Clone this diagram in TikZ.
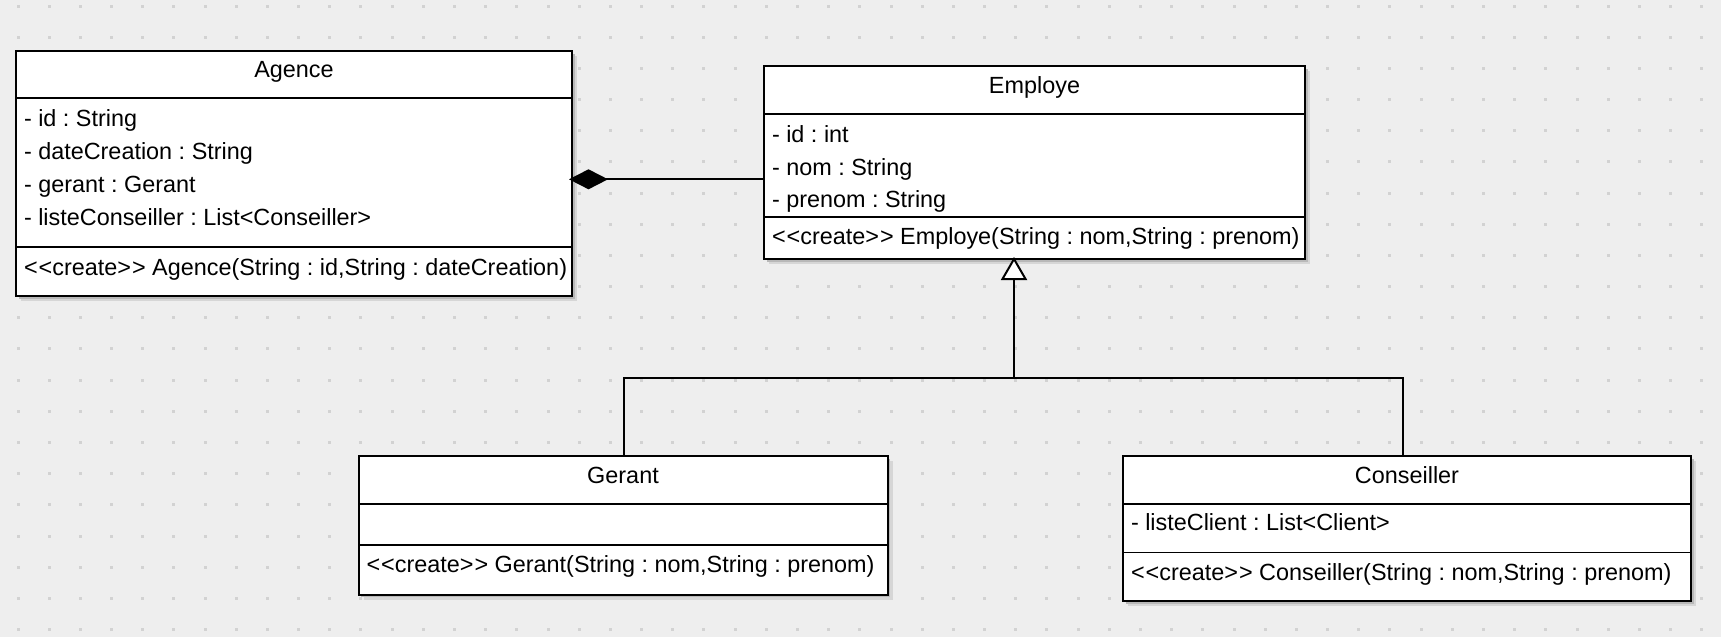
\documentclass[tikz,border=0pt]{standalone}
\usepackage{fontspec}
\setmainfont{Liberation Sans}
\usetikzlibrary{arrows.meta,shadows}
\definecolor{bgcol}{HTML}{EEEEEE}
\definecolor{dotcol}{HTML}{D2D2D2}
\definecolor{shlight}{HTML}{D6D6D6}
\definecolor{shdark}{HTML}{B8B8B8}
\newcommand\umlcr{<\kern1pt<create>\kern1pt>}
\frenchspacing
\begin{document}
\begin{tikzpicture}[x=1pt,y=-1pt,
  cls/.style={rectangle, draw=black, fill=white, line width=2pt, inner sep=0pt, outer sep=0pt, anchor=north west,
    drop shadow={shadow xshift=5pt, shadow yshift=-5pt, fill=shlight, opacity=1},
    drop shadow={shadow xshift=2.5pt, shadow yshift=-2.5pt, fill=shdark, opacity=1}},
  sepline/.style={line width=2pt},
  thinsep/.style={line width=1pt},
  txt/.style={font=\fontsize{23.4pt}{28pt}\selectfont, inner sep=0pt, outer sep=0pt, anchor=base west},
  ttl/.style={font=\fontsize{23.4pt}{28pt}\selectfont, inner sep=0pt, outer sep=0pt, anchor=base},
  conn/.style={line width=2pt, draw=black},
  comp/.style={conn, {Diamond[length=39pt,width=20pt]}-},
  inh/.style={conn, -{Triangle[length=23pt,width=26pt,fill=white]}}
]
\useasboundingbox (0,0) rectangle (1721,637);
\fill[bgcol] (0,0) rectangle (1721,637);
\foreach \i in {0,...,54}{
  \foreach \j in {0,...,20}{
    \fill[dotcol] ({18+31.18*\i-1.5},{6+31.18*\j-1.5}) rectangle ++(3,3);
  }
}

% Agence
\node[cls, minimum width=556pt, minimum height=245pt] (agence) at (16,51) {};
\draw[sepline] ([yshift=-47pt]agence.north west) -- ([yshift=-47pt]agence.north east);
\draw[sepline] ([yshift=-196pt]agence.north west) -- ([yshift=-196pt]agence.north east);
\node[ttl] (agT) at ([yshift=-26.7pt]agence.north) {Agence};
\node[txt] (agA1) at ([xshift=8pt,yshift=-75.7pt]agence.north west) {- id : String};
\node[txt] (agA2) at ([xshift=8pt,yshift=-108.7pt]agence.north west) {- dateCreation : String};
\node[txt] (agA3) at ([xshift=8pt,yshift=-141.7pt]agence.north west) {- gerant : Gerant};
\node[txt] (agA4) at ([xshift=8pt,yshift=-174.7pt]agence.north west) {- listeConseiller : List<Conseiller>};
\node[txt] (agO1) at ([xshift=8pt,yshift=-224pt]agence.north west) {\umlcr{} Agence(String : id,String : dateCreation)};

% Employe
\node[cls, minimum width=541pt, minimum height=193pt] (employe) at (764,66) {};
\draw[sepline] ([yshift=-48pt]employe.north west) -- ([yshift=-48pt]employe.north east);
\draw[sepline] ([yshift=-150.7pt]employe.north west) -- ([yshift=-150.7pt]employe.north east);
\node[ttl] (emT) at ([yshift=-27.3pt]employe.north) {Employe};
\node[txt] (emA1) at ([xshift=8pt,yshift=-76.7pt]employe.north west) {- id : int};
\node[txt] (emA2) at ([xshift=8pt,yshift=-109.2pt]employe.north west) {- nom : String};
\node[txt] (emA3) at ([xshift=8pt,yshift=-141.7pt]employe.north west) {- prenom : String};
\node[txt] (emO1) at ([xshift=8pt,yshift=-178pt]employe.north west) {\umlcr{} Employe(String : nom,String : prenom)};

% Gerant
\node[cls, minimum width=529pt, minimum height=138.5pt] (gerant) at (358.5,456) {};
\draw[sepline] ([yshift=-48pt]gerant.north west) -- ([yshift=-48pt]gerant.north east);
\draw[sepline] ([yshift=-89pt]gerant.north west) -- ([yshift=-89pt]gerant.north east);
\node[ttl] (geT) at ([yshift=-27.3pt]gerant.north) {Gerant};
\node[txt] (geO1) at ([xshift=8pt,yshift=-116.7pt]gerant.north west) {\umlcr{} Gerant(String : nom,String : prenom)};

% Conseiller
\node[cls, minimum width=568pt, minimum height=145pt] (conseiller) at (1123,456) {};
\draw[sepline] ([yshift=-47.5pt]conseiller.north west) -- ([yshift=-47.5pt]conseiller.north east);
\draw[thinsep] ([yshift=-96pt]conseiller.north west) -- ([yshift=-96pt]conseiller.north east);
\node[ttl] (coT) at ([yshift=-27.3pt]conseiller.north) {Conseiller};
\node[txt] (coA1) at ([xshift=8pt,yshift=-74.7pt]conseiller.north west) {- listeClient : List<Client>};
\node[txt] (coO1) at ([xshift=8pt,yshift=-124pt]conseiller.north west) {\umlcr{} Conseiller(String : nom,String : prenom)};

% connectors
\coordinate (cy) at (0,179.3);
\coordinate (bus) at (0,377.5);
\coordinate (gx) at (624,0);
\coordinate (cx) at (1403,0);
\coordinate (ex) at (1014,0);
\draw[comp] ([xshift=-3pt]agence.east |- cy) -- (employe.west |- cy);
\draw[conn] (gerant.north -| gx) -- (bus -| gx) -- (bus -| cx) -- (conseiller.north -| cx);
\draw[inh] (bus -| ex) -- ([yshift=2pt]employe.south -| ex);
\end{tikzpicture}
\end{document}
